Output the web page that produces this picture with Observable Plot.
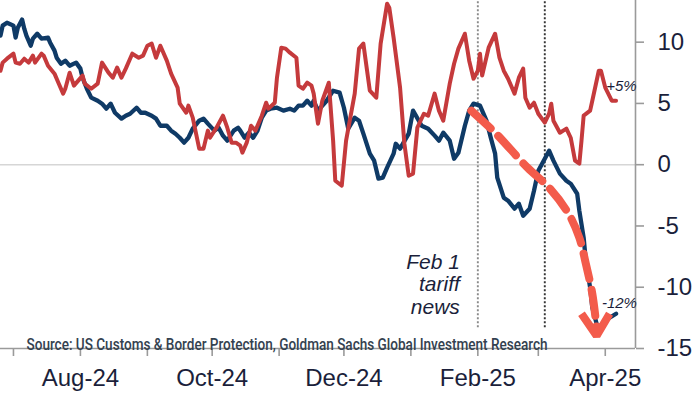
<!DOCTYPE html>
<html>
<head>
<meta charset="utf-8">
<script src="https://cdn.jsdelivr.net/npm/d3@7"></script>
<script src="https://cdn.jsdelivr.net/npm/@observablehq/plot@0.6"></script>
<style>
  html, body { margin: 0; padding: 0; background: #ffffff; }
  #chart { width: 700px; height: 394px; }
</style>
</head>
<body>
<div id="chart"></div>
<script>
// ---- Data ----
const navyDates = ["2024-06-25","2024-06-26","2024-06-28","2024-07-01","2024-07-02","2024-07-03","2024-07-05","2024-07-06","2024-07-07","2024-07-09","2024-07-10","2024-07-12","2024-07-14","2024-07-17","2024-07-18","2024-07-20","2024-07-21","2024-07-23","2024-07-25","2024-07-27","2024-07-30","2024-08-01","2024-08-02","2024-08-04","2024-08-06","2024-08-09","2024-08-11","2024-08-13","2024-08-15","2024-08-17","2024-08-20","2024-08-22","2024-08-24","2024-08-27","2024-08-29","2024-08-31","2024-09-03","2024-09-05","2024-09-07","2024-09-10","2024-09-12","2024-09-14","2024-09-16","2024-09-18","2024-09-20","2024-09-22","2024-09-25","2024-09-27","2024-09-29","2024-10-02","2024-10-04","2024-10-06","2024-10-08","2024-10-11","2024-10-13","2024-10-14","2024-10-16","2024-10-18","2024-10-20","2024-10-22","2024-10-24","2024-10-26","2024-10-28","2024-10-31","2024-11-03","2024-11-06","2024-11-08","2024-11-10","2024-11-12","2024-11-14","2024-11-16","2024-11-17","2024-11-19","2024-11-23","2024-11-26","2024-11-29","2024-12-01","2024-12-03","2024-12-06","2024-12-08","2024-12-10","2024-12-13","2024-12-15","2024-12-17","2024-12-19","2024-12-21","2024-12-24","2024-12-25","2024-12-27","2024-12-31","2025-01-02","2025-01-06","2025-01-09","2025-01-12","2025-01-14","2025-01-16","2025-01-19","2025-01-21","2025-01-23","2025-01-26","2025-01-28","2025-01-30","2025-02-02","2025-02-05","2025-02-07","2025-02-09","2025-02-10","2025-02-13","2025-02-15","2025-02-18","2025-02-20","2025-02-22","2025-02-25","2025-02-27","2025-03-01","2025-03-04","2025-03-06","2025-03-08","2025-03-11","2025-03-14","2025-03-16","2025-03-19","2025-03-20","2025-03-22","2025-03-23","2025-03-25","2025-03-26","2025-03-28","2025-03-30","2025-04-01","2025-04-03","2025-04-06"];
const navyValues = [10.53,11.35,11.59,11.35,10.37,11.18,11.84,11.10,10.53,9.71,10.29,10.69,10.29,10.37,9.96,9.31,8.73,8.24,8.49,8.08,8.33,7.84,7.10,6.20,5.47,5.22,4.98,4.57,4.98,4.24,3.76,4.00,4.16,4.65,4.24,4.24,4.00,3.76,3.18,3.18,2.78,2.53,2.20,1.80,2.20,2.94,3.59,3.76,3.35,2.78,3.02,2.37,1.96,2.78,3.02,2.78,2.20,2.61,2.20,2.78,3.84,4.41,4.57,4.65,4.41,4.57,4.41,4.82,4.82,5.22,4.82,5.22,4.41,5.22,6.04,5.88,4.65,2.94,3.84,3.59,2.53,0.90,0.33,-1.14,-1.06,-0.24,0.90,1.71,1.31,2.53,4.41,3.18,2.94,2.37,1.96,2.61,1.96,0.49,0.98,3.18,4.41,4.98,4.82,3.59,2.20,0.90,-1.06,-2.69,-2.94,-3.59,-3.18,-4.16,-3.59,-2.12,-0.49,0.49,1.14,0.33,-0.73,-1.31,-1.55,-2.37,-3.76,-5.96,-7.84,-10.04,-11.67,-12.98,-13.31,-12.73,-12.49,-12.16];

const redDates = ["2024-06-25","2024-06-26","2024-06-28","2024-07-01","2024-07-02","2024-07-04","2024-07-06","2024-07-08","2024-07-10","2024-07-11","2024-07-14","2024-07-15","2024-07-17","2024-07-20","2024-07-22","2024-07-24","2024-07-25","2024-07-27","2024-07-29","2024-07-31","2024-08-02","2024-08-03","2024-08-06","2024-08-09","2024-08-11","2024-08-14","2024-08-16","2024-08-18","2024-08-20","2024-08-22","2024-08-25","2024-08-28","2024-08-30","2024-09-01","2024-09-03","2024-09-05","2024-09-07","2024-09-10","2024-09-12","2024-09-15","2024-09-16","2024-09-19","2024-09-20","2024-09-22","2024-09-25","2024-09-27","2024-09-29","2024-09-30","2024-10-03","2024-10-06","2024-10-08","2024-10-10","2024-10-12","2024-10-14","2024-10-15","2024-10-17","2024-10-19","2024-10-21","2024-10-24","2024-10-26","2024-10-27","2024-10-30","2024-10-31","2024-11-02","2024-11-04","2024-11-06","2024-11-09","2024-11-10","2024-11-12","2024-11-14","2024-11-16","2024-11-17","2024-11-19","2024-11-21","2024-11-24","2024-11-26","2024-11-27","2024-11-30","2024-12-02","2024-12-06","2024-12-08","2024-12-10","2024-12-13","2024-12-16","2024-12-18","2024-12-21","2024-12-22","2024-12-24","2024-12-27","2024-12-29","2024-12-31","2025-01-02","2025-01-04","2025-01-07","2025-01-09","2025-01-12","2025-01-14","2025-01-16","2025-01-19","2025-01-21","2025-01-23","2025-01-26","2025-01-28","2025-01-30","2025-02-01","2025-02-02","2025-02-03","2025-02-06","2025-02-09","2025-02-11","2025-02-13","2025-02-15","2025-02-18","2025-02-20","2025-02-22","2025-02-23","2025-02-25","2025-02-27","2025-03-01","2025-03-04","2025-03-06","2025-03-07","2025-03-08","2025-03-11","2025-03-14","2025-03-16","2025-03-18","2025-03-20","2025-03-21","2025-03-22","2025-03-25","2025-03-26","2025-03-29","2025-03-30","2025-04-01","2025-04-04","2025-04-06"];
const redValues = [7.67,8.33,8.65,9.06,8.33,8.24,8.65,8.33,8.90,8.33,9.06,8.90,8.08,7.43,6.61,5.80,6.20,7.51,6.45,6.86,7.27,6.61,6.20,6.61,8.33,7.51,7.10,7.92,7.10,7.84,9.06,8.73,8.90,9.71,9.88,8.73,9.71,8.49,7.43,6.29,4.98,4.24,4.82,3.84,1.31,1.31,2.78,2.20,3.02,4.00,3.02,1.80,1.80,1.55,0.98,1.80,3.18,2.78,4.00,5.06,4.57,5.06,7.10,9.55,9.47,9.14,8.73,6.45,6.20,6.69,6.45,5.80,3.35,5.22,6.69,1.96,-1.31,-1.71,1.96,5.80,9.47,9.88,6.04,5.47,9.88,13.14,12.82,10.37,6.29,1.71,-0.90,-0.73,3.02,4.16,4.00,5.80,4.41,3.59,6.61,8.24,9.47,10.69,8.49,7.02,7.67,9.06,7.27,9.55,10.69,8.73,7.67,7.02,5.80,7.10,7.84,5.47,4.65,5.06,4.16,3.43,4.16,4.98,3.59,2.61,2.94,2.20,0.33,0.08,1.96,4.00,4.41,5.22,7.67,7.67,6.29,5.22,5.22];

// Dashed "downtrend" arrow drawn on top (annotation path in data units)
const arrowDates = ["2025-01-29","2025-02-09","2025-02-24","2025-03-06","2025-03-15","2025-03-20","2025-03-23","2025-03-26","2025-03-28"];
const arrowValues = [4.41,2.61,-0.24,-1.88,-4.0,-5.96,-8.08,-10.53,-13.3];
const headDates = ["2025-03-21","2025-03-28","2025-04-03"];
const headValues = [-12.16,-13.96,-12.16];

// Axes
const xDomain = ["2024-06-25","2025-04-15"];
const yDomain = [-15, 13.4];
const xTicks = ["2024-07-01","2024-08-01","2024-09-01","2024-10-01","2024-11-01","2024-12-01","2025-01-01","2025-02-01","2025-03-01","2025-04-01"];
const xLabelled = ["2024-08-01","2024-10-01","2024-12-01","2025-02-01","2025-04-01"];
const yTicks = [-15, -10, -5, 0, 5, 10];

// Event lines & annotations
const eventDates = ["2025-02-01","2025-03-04"];
const eventBottom = -13.3;
const noteText = "Feb 1\ntariff\nnews";
const noteValue = -9.74;
const endLabels = [
  {date: "2025-04-01", value: 6.37, text: "+5%"},
  {date: "2025-03-30", value: -11.3, text: "-12%"}
];
const sourceText = "Source: US Customs & Border Protection, Goldman Sachs Global Investment Research";

// ---- Build ----
const parse = d3.utcParse("%Y-%m-%d");
const navy = navyDates.map((d, i) => ({date: parse(d), value: navyValues[i]}));
const red = redDates.map((d, i) => ({date: parse(d), value: redValues[i]}));
const arrow = arrowDates.map((d, i) => ({date: parse(d), value: arrowValues[i]}));
const head = headDates.map((d, i) => ({date: parse(d), value: headValues[i]}));
const labelSet = new Set(xLabelled.map(d => +parse(d)));
const fmt = d3.utcFormat("%b-%y");

const textColor = "#1b1f3b";
const navyColor = "#0f3a66";
const redColor = "#c53a3c";
const coral = "#f35b4b";

const chart = Plot.plot({
  width: 700,
  height: 394,
  marginTop: 0,
  marginRight: 65,
  marginBottom: 46,
  marginLeft: 0,
  style: {fontFamily: "'Liberation Sans', Arial, sans-serif", fontSize: "24px", background: "#ffffff"},
  x: {type: "utc", domain: xDomain.map(parse), label: null},
  y: {domain: yDomain, label: null},
  marks: [
    Plot.ruleY([0], {stroke: "#d6d6d6", strokeWidth: 1.6}),
    Plot.ruleX([parse(eventDates[0])], {y1: eventBottom, y2: yDomain[1], stroke: "#8a8a8a", strokeWidth: 1.9, strokeDasharray: "1.8,2.2"}),
    Plot.ruleX([parse(eventDates[1])], {y1: eventBottom, y2: yDomain[1], stroke: "#333333", strokeWidth: 1.9, strokeDasharray: "1.8,2.2"}),
    Plot.line(navy, {x: "date", y: "value", stroke: navyColor, strokeWidth: 4.3, strokeLinejoin: "round"}),
    Plot.line(red, {x: "date", y: "value", stroke: redColor, strokeWidth: 4, strokeLinejoin: "round"}),
    Plot.line(arrow, {x: "date", y: "value", curve: "catmull-rom", stroke: coral, strokeWidth: 8, strokeDasharray: "26,11"}),
    Plot.line(head, {x: "date", y: "value", stroke: coral, strokeWidth: 8, strokeLinejoin: "miter", strokeLinecap: "butt"}),
    Plot.ruleY([yDomain[0]], {stroke: "#9a9a9a", strokeWidth: 1.6}),
    Plot.ruleX([parse(xDomain[1])], {stroke: "#9a9a9a", strokeWidth: 1.6}),
    Plot.axisX({
      ticks: xTicks.map(parse), tickSize: 8, tickPadding: 12, label: null,
      tickFormat: d => labelSet.has(+d) ? fmt(d) : "",
      stroke: "#9a9a9a", fill: textColor, fontSize: 24
    }),
    Plot.axisY({
      anchor: "right", ticks: yTicks, tickSize: 8, tickPadding: 14, label: null,
      tickFormat: d => String(d),
      stroke: "#9a9a9a", fill: textColor, fontSize: 24
    }),
    Plot.text([{date: parse(eventDates[0]), value: noteValue, text: noteText}], {
      x: "date", y: "value", text: "text", dx: -18, textAnchor: "end", lineAnchor: "middle",
      fontStyle: "italic", fontSize: 21, lineHeight: 1.08, fill: textColor
    }),
    Plot.text(endLabels.map(d => ({...d, date: parse(d.date)})), {
      x: "date", y: "value", text: "text", dx: 1, textAnchor: "start",
      fontStyle: "italic", fontSize: 15, fill: textColor
    }),
    Plot.text([sourceText], {
      frameAnchor: "bottom-left", dx: 26, dy: 1, lineAnchor: "bottom", textAnchor: "start",
      fontSize: 16, fontWeight: 500, fontFamily: "Roboto, 'Liberation Sans', sans-serif", fill: "#33414f"
    })
  ]
});

document.getElementById("chart").appendChild(chart);

// Post-process: tick stroke width and caption width
d3.select(chart).selectAll('[aria-label="x-axis tick"] path, [aria-label="y-axis tick"] path').attr("stroke-width", 1.6);
d3.select(chart).selectAll("text").filter(function() { return this.textContent === sourceText; })
  .attr("textLength", 521).attr("lengthAdjust", "spacingAndGlyphs");
</script>
</body>
</html>
